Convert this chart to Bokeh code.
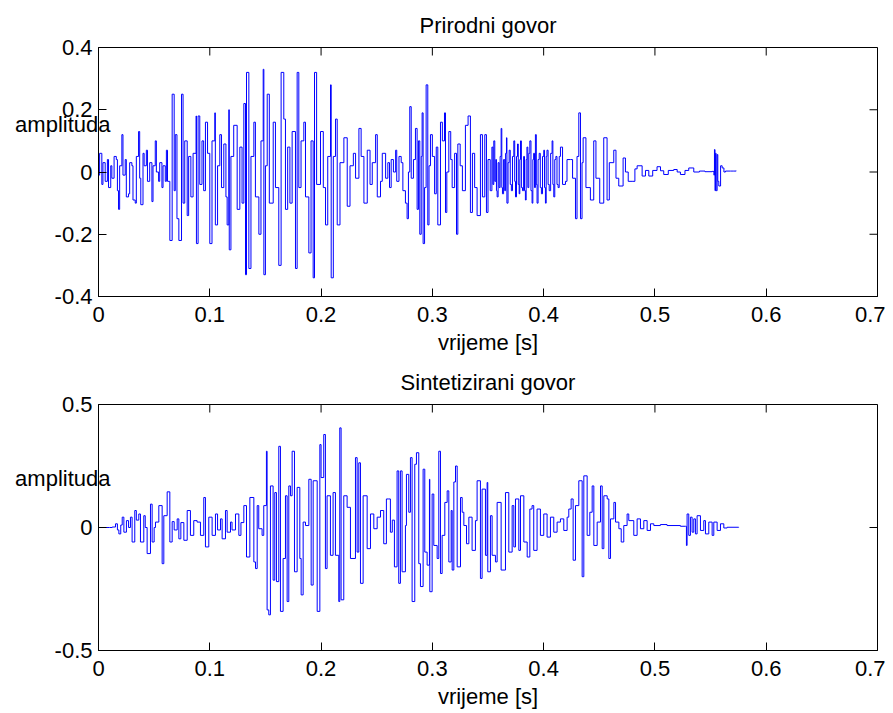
import math
from bokeh.plotting import figure
from bokeh.models import LinearAxis, FixedTicker, Range1d
from bokeh.layouts import column
from bokeh.embed import file_html
from bokeh.resources import INLINE

FONT = "Liberation Sans"
FS = "22px"

x_ticks = [0, 0.1, 0.2, 0.3, 0.4, 0.5, 0.6, 0.7]
x_tick_labels = ["0", "0.1", "0.2", "0.3", "0.4", "0.5", "0.6", "0.7"]
top_y_ticks = [-0.4, -0.2, 0, 0.2, 0.4]
top_y_tick_labels = ["-0.4", "-0.2", "0", "0.2", "0.4"]
bot_y_ticks = [-0.5, 0, 0.5]
bot_y_tick_labels = ["-0.5", "0", "0.5"]

top_title = "Prirodni govor"
bot_title = "Sintetizirani govor"
x_label = "vrijeme [s]"
y_label = "amplituda"

# (time [s], amplitude)
top_samples = [
    (0.000, -0.01), (0.001, 0.06), (0.003, -0.04), (0.004, 0.03), (0.006, -0.03), (0.008, 0.04),
    (0.009, -0.05), (0.011, 0.02), (0.012, -0.02), (0.014, 0.05), (0.016, 0.04), (0.017, -0.06),
    (0.018, -0.12), (0.019, 0.02), (0.021, 0.12), (0.022, -0.01), (0.024, 0.04), (0.025, -0.08),
    (0.027, -0.07), (0.028, 0.03), (0.030, 0.02), (0.031, -0.09), (0.033, -0.10), (0.034, 0.05),
    (0.036, 0.13), (0.037, -0.02), (0.038, -0.105), (0.040, 0.06), (0.041, 0.02), (0.043, 0.07),
    (0.044, -0.03), (0.046, 0.03), (0.048, -0.095), (0.049, 0.02), (0.051, 0.10), (0.052, 0.0),
    (0.054, -0.03), (0.055, 0.03), (0.057, -0.05), (0.058, 0.02), (0.060, -0.03), (0.061, 0.07),
    (0.062, -0.03),
    (0.0641, -0.22), (0.0662, 0.25), (0.068, -0.06), (0.069, 0.12), (0.0705, -0.15), (0.0722, -0.22),
    (0.0746, 0.25), (0.076, -0.10), (0.0775, 0.10), (0.0797, -0.14), (0.081, 0.05), (0.083, -0.08),
    (0.085, 0.06), (0.0877, 0.18), (0.0880, -0.23), (0.0895, 0.18), (0.091, -0.04), (0.093, 0.10),
    (0.0945, -0.06), (0.0961, 0.16), (0.098, 0.06), (0.1000, -0.23), (0.102, 0.10), (0.1045, 0.19),
    (0.1050, -0.17), (0.107, 0.02), (0.109, 0.12), (0.1105, -0.05), (0.1126, 0.09), (0.1145, -0.08),
    (0.1156, -0.17), (0.1171, 0.20), (0.1175, -0.25), (0.119, 0.05), (0.1215, 0.15), (0.1246, -0.12),
    (0.127, 0.08), (0.1290, -0.10), (0.1306, 0.22), (0.1321, -0.33), (0.1330, 0.32), (0.1351, -0.31),
    (0.137, 0.05), (0.1396, 0.16), (0.141, -0.08), (0.1441, -0.20), (0.146, 0.10), (0.1480, 0.33),
    (0.1486, -0.33), (0.150, 0.02), (0.1516, 0.25), (0.1535, -0.10), (0.1570, 0.16), (0.159, -0.05),
    (0.1620, -0.30), (0.1641, 0.32), (0.1665, 0.17), (0.168, -0.12), (0.170, 0.08), (0.172, -0.10),
    (0.1740, 0.13), (0.1770, -0.31), (0.1785, 0.32), (0.180, -0.05), (0.182, 0.10), (0.1845, 0.16),
    (0.186, -0.08), (0.1890, -0.26), (0.1910, 0.10), (0.1929, -0.34), (0.1941, 0.32), (0.196, -0.04),
    (0.1995, 0.13), (0.202, -0.05), (0.2040, -0.17), (0.206, 0.05), (0.2085, 0.28), (0.2091, -0.34),
    (0.211, 0.05), (0.2130, 0.17), (0.2145, -0.17), (0.217, 0.03), (0.2205, 0.11), (0.2235, -0.11),
    (0.226, 0.02), (0.229, 0.06), (0.231, -0.02), (0.234, 0.14), (0.236, 0.05), (0.2385, -0.10),
    (0.2415, 0.07), (0.244, -0.04), (0.246, 0.03), (0.249, 0.12), (0.2505, -0.08),
    (0.2534, -0.03), (0.255, 0.06), (0.2565, 0.06), (0.258, -0.02), (0.260, 0.03), (0.2615, -0.05),
    (0.263, 0.04), (0.265, 0.0), (0.267, 0.07), (0.268, -0.03), (0.270, 0.05), (0.272, 0.03),
    (0.2735, -0.06), (0.2758, -0.10), (0.2773, -0.15), (0.2785, 0.0), (0.2797, 0.21), (0.281, -0.02),
    (0.283, 0.04), (0.2848, 0.14), (0.2863, -0.12), (0.2875, 0.10), (0.2887, -0.20), (0.290, 0.05),
    (0.2908, 0.19), (0.2917, -0.23), (0.293, -0.05), (0.2944, 0.28), (0.2959, -0.17), (0.297, 0.02),
    (0.2983, 0.12), (0.300, 0.05), (0.302, -0.07), (0.3035, 0.08), (0.3049, -0.17), (0.3073, 0.16),
    (0.309, 0.10), (0.3109, 0.19), (0.3118, -0.13), (0.313, 0.0), (0.3148, 0.13), (0.3165, 0.04),
    (0.3178, -0.05), (0.320, 0.06), (0.3217, -0.20), (0.3229, 0.09), (0.325, 0.02), (0.327, -0.06),
    (0.3297, 0.15), (0.3321, 0.18), (0.3342, -0.13), (0.336, 0.06), (0.338, -0.05), (0.3402, -0.14),
    (0.3432, 0.12), (0.345, -0.08), (0.3471, 0.12), (0.3486, -0.13), (0.350, 0.04), (0.352, -0.06),
    (0.3535, 0.08), (0.3544, -0.04), (0.3552, 0.10), (0.3561, -0.03), (0.357, 0.04), (0.3576, -0.06),
    (0.3582, -0.08), (0.3591, 0.03), (0.360, -0.05), (0.3609, 0.05), (0.3618, 0.14), (0.3624, -0.05),
    (0.363, -0.07), (0.364, 0.04), (0.365, -0.06), (0.3658, 0.06), (0.3666, 0.11), (0.3670, -0.10),
    (0.368, 0.03), (0.369, 0.07), (0.370, -0.04), (0.371, -0.06), (0.372, 0.05), (0.3732, 0.10),
    (0.374, -0.03), (0.3747, -0.08), (0.3756, 0.05), (0.3765, 0.09), (0.3772, -0.04), (0.378, -0.07),
    (0.3786, 0.04), (0.3792, 0.10), (0.380, -0.05), (0.381, -0.06), (0.382, 0.05), (0.3828, -0.06),
    (0.3836, -0.09), (0.3843, 0.04), (0.385, 0.08), (0.3858, -0.05), (0.3867, 0.06), (0.3876, 0.10),
    (0.3886, -0.06), (0.3896, -0.10), (0.3903, 0.04), (0.391, 0.06), (0.3918, -0.05), (0.3926, 0.12),
    (0.3934, -0.04), (0.3941, -0.10), (0.395, 0.04), (0.396, 0.06), (0.397, -0.05), (0.398, -0.07),
    (0.399, 0.05), (0.4001, 0.07), (0.4008, -0.05), (0.4016, -0.10), (0.4023, 0.05), (0.403, 0.07),
    (0.404, -0.04), (0.405, -0.06), (0.4063, 0.06), (0.4076, 0.10), (0.4083, -0.04), (0.4091, -0.08),
    (0.410, 0.04), (0.411, 0.05), (0.412, -0.04), (0.413, -0.05), (0.414, 0.05), (0.4151, 0.08),
    (0.417, -0.04), (0.4196, -0.03), (0.421, 0.04), (0.4241, 0.04), (0.426, -0.02), (0.4286, -0.15),
    (0.430, 0.05), (0.4316, 0.19), (0.4331, -0.15), (0.4345, 0.03), (0.4355, 0.11), (0.438, -0.05),
    (0.4420, -0.09), (0.4450, 0.10), (0.447, -0.02), (0.4504, -0.10), (0.4540, 0.11), (0.4570, -0.09),
    (0.459, 0.03), (0.4630, 0.07), (0.465, -0.02), (0.4675, -0.045), (0.4714, 0.045), (0.4735, 0.0),
    (0.4760, -0.03), (0.4795, -0.03), (0.4820, 0.01), (0.4840, 0.02), (0.4885, -0.013), (0.4915, 0.005),
    (0.4945, -0.013), (0.4980, 0.005), (0.5019, 0.017), (0.505, 0.004), (0.5079, -0.008), (0.512, 0.005),
    (0.5169, 0.008), (0.5200, 0.0), (0.5229, -0.008), (0.5270, 0.005), (0.5304, 0.013), (0.5349, 0.0),
    (0.540, 0.003), (0.545, 0.001), (0.5514, 0.002), (0.5530, -0.01), (0.5535, 0.072), (0.5540, -0.06),
    (0.5544, 0.06), (0.555, -0.06), (0.5559, 0.056), (0.5565, -0.03), (0.5574, -0.045), (0.5590, 0.02),
    (0.5604, 0.013), (0.5620, 0.0), (0.5634, 0.003), (0.5680, 0.003), (0.5709, 0.003), (0.573, 0.004),
]

# (time [s], amplitude)
bot_samples = [
    (0.000, 0.0), (0.010, 0.0), (0.0123, 0.002), (0.0153, 0.015), (0.017, -0.01), (0.0183, -0.026),
    (0.020, 0.01), (0.0213, 0.042), (0.0228, -0.019), (0.0251, 0.028), (0.027, 0.0), (0.0287, 0.042),
    (0.0302, -0.059), (0.0326, 0.069), (0.034, 0.03), (0.0362, 0.055), (0.0377, -0.059), (0.0407, 0.048),
    (0.042, 0.0), (0.0437, -0.106), (0.0467, 0.095), (0.0482, -0.059), (0.050, 0.0), (0.0512, 0.022),
    (0.0542, 0.089), (0.0572, -0.147), (0.0587, 0.048), (0.0617, 0.145), (0.0641, -0.059), (0.0662, 0.024),
    (0.068, -0.01), (0.0707, 0.035), (0.0722, -0.046), (0.074, 0.02), (0.0767, -0.052), (0.0797, 0.069),
    (0.0826, -0.032), (0.0856, 0.028), (0.0886, 0.022), (0.0916, -0.032), (0.0946, 0.122), (0.0961, -0.079),
    (0.0991, 0.042), (0.1021, -0.032), (0.1051, 0.055), (0.107, -0.01), (0.1096, 0.035), (0.1111, -0.046),
    (0.1141, 0.069), (0.1156, -0.019), (0.1186, 0.022), (0.120, -0.01), (0.1231, 0.055), (0.1261, -0.032),
    (0.128, 0.02), (0.1306, 0.089), (0.1330, -0.12), (0.1360, 0.122), (0.1396, -0.14), (0.1411, -0.167),
    (0.1426, 0.089), (0.1440, -0.005), (0.1470, -0.032), (0.1485, 0.089), (0.1509, 0.31), (0.1515, -0.335),
    (0.1530, -0.355), (0.1545, 0.169), (0.1569, -0.214), (0.1584, 0.142), (0.1599, -0.22), (0.1620, 0.33),
    (0.1635, -0.341), (0.1659, -0.126), (0.1680, 0.129), (0.1695, -0.301), (0.1710, 0.169), (0.1725, 0.129),
    (0.1740, 0.31), (0.1761, -0.18), (0.1785, 0.163), (0.1809, -0.126), (0.1821, -0.274), (0.1839, 0.022),
    (0.1860, 0.008), (0.1890, 0.196), (0.1911, -0.234), (0.1929, 0.19), (0.1965, -0.341), (0.1989, 0.337),
    (0.2000, 0.203), (0.2024, 0.378), (0.2039, -0.167), (0.2054, 0.129), (0.2084, -0.113), (0.2108, 0.142),
    (0.2129, -0.113), (0.2159, -0.301), (0.2168, 0.405), (0.2180, -0.294), (0.2204, 0.129), (0.2234, 0.082),
    (0.2264, -0.126), (0.2309, 0.284), (0.2324, -0.1), (0.2339, 0.263), (0.2354, -0.227), (0.2378, 0.129),
    (0.2414, -0.086), (0.2444, 0.055), (0.2474, -0.005), (0.2504, 0.042),
    (0.2534, 0.069), (0.2563, -0.066), (0.2587, 0.116), (0.2608, 0.116), (0.2623, -0.019), (0.264, 0.03),
    (0.2659, -0.16), (0.2683, 0.23), (0.2698, -0.227), (0.2713, 0.23), (0.2728, -0.18), (0.2758, 0.008),
    (0.2767, 0.216), (0.2788, 0.062), (0.2803, 0.284), (0.2818, -0.301), (0.2842, 0.257), (0.2857, 0.304),
    (0.2878, -0.147), (0.2893, -0.24), (0.2917, 0.237), (0.2932, -0.1), (0.2953, -0.153), (0.2974, 0.196),
    (0.2977, -0.261), (0.2998, 0.136), (0.3013, -0.073), (0.3043, -0.126), (0.3058, 0.31), (0.3073, -0.187),
    (0.3088, -0.032), (0.3112, 0.102), (0.3133, 0.149), (0.3148, -0.14), (0.3169, 0.069), (0.3178, -0.173),
    (0.3193, 0.185), (0.3208, 0.25), (0.3223, -0.16), (0.3253, 0.122), (0.3268, 0.062), (0.3283, 0.008),
    (0.3307, -0.066), (0.3328, 0.042), (0.3357, -0.093), (0.3387, 0.028), (0.3402, 0.19), (0.3432, -0.207),
    (0.3447, 0.156), (0.3477, -0.113), (0.3492, 0.183), (0.3498, -0.18), (0.3522, 0.048), (0.3537, -0.113),
    (0.3567, -0.14), (0.3582, 0.102), (0.3618, -0.173), (0.3657, 0.142), (0.3687, -0.1), (0.3717, 0.089),
    (0.3732, -0.079), (0.3747, 0.116), (0.3777, -0.093), (0.3792, 0.129), (0.3822, -0.059), (0.3852, -0.12),
    (0.3876, 0.075), (0.3896, 0.089), (0.3911, -0.093), (0.3941, 0.075), (0.3971, -0.032), (0.4001, 0.055),
    (0.4031, -0.039), (0.4061, 0.042), (0.4091, -0.019), (0.4121, 0.022), (0.4151, 0.035), (0.4181, -0.012),
    (0.4211, 0.042), (0.4226, 0.075), (0.4247, 0.116), (0.4265, -0.133), (0.4286, 0.089), (0.4316, 0.19),
    (0.4346, -0.2), (0.4361, 0.21), (0.4391, -0.032), (0.4415, 0.062), (0.4436, 0.169), (0.4451, -0.073),
    (0.4481, 0.022), (0.4511, 0.169), (0.4526, -0.086), (0.4541, 0.129), (0.4571, 0.116), (0.4586, -0.126),
    (0.4601, 0.035), (0.4631, 0.102), (0.4646, 0.022), (0.4676, -0.005), (0.4697, -0.059), (0.4720, 0.008),
    (0.4750, 0.055), (0.4765, 0.028), (0.4810, -0.032), (0.4840, 0.035), (0.4870, -0.005), (0.4900, 0.028),
    (0.4930, -0.012), (0.4960, 0.015), (0.4990, 0.008), (0.5049, 0.012), (0.5109, 0.008), (0.5229, 0.005),
    (0.5274, 0.005), (0.5283, -0.073), (0.5289, 0.055), (0.5304, -0.032), (0.5319, 0.042), (0.5334, -0.019),
    (0.5349, 0.035), (0.5364, -0.026), (0.5379, 0.048), (0.5409, -0.012), (0.5439, 0.028), (0.5454, -0.026),
    (0.5484, 0.022), (0.5514, -0.032), (0.5529, 0.022), (0.5559, -0.012), (0.5589, 0.015), (0.5619, -0.002),
    (0.5649, 0.001), (0.5753, 0.0),
]


def base_axis(ax):
    ax.major_tick_in = 8
    ax.major_tick_out = 0
    ax.minor_tick_in = 0
    ax.minor_tick_out = 0
    ax.axis_line_color = "black"
    ax.major_tick_line_color = "black"
    ax.major_label_text_font = FONT
    ax.major_label_text_font_size = FS
    ax.major_label_text_color = "black"


def make_panel(title, samples, y_rng, y_ticks, y_tick_labels, label_y, height, b_top, b_bottom):
    p = figure(width=885, height=height, x_range=Range1d(0, 0.7), y_range=Range1d(*y_rng),
               output_backend="svg", toolbar_location=None,
               x_axis_location=None, y_axis_location=None,
               min_border_left=98, min_border_right=8,
               min_border_top=b_top, min_border_bottom=b_bottom)
    p.grid.visible = False
    p.outline_line_color = "black"
    p.background_fill_color = "white"
    p.border_fill_color = "white"

    p.title.text = title
    p.title.align = "center"
    p.title.text_font = FONT
    p.title.text_font_size = FS
    p.title.text_font_style = "normal"
    p.title.text_color = "black"
    p.title.standoff = 19

    x_over = {v: s for v, s in zip(x_ticks, x_tick_labels)}
    y_over = {v: s for v, s in zip(y_ticks, y_tick_labels)}

    xb = LinearAxis(ticker=FixedTicker(ticks=x_ticks), major_label_overrides=x_over, axis_label=x_label)
    base_axis(xb)
    xb.major_label_standoff = 10
    xb.axis_label_text_font = FONT
    xb.axis_label_text_font_size = FS
    xb.axis_label_text_font_style = "normal"
    xb.axis_label_text_color = "black"
    xb.axis_label_standoff = 5
    p.add_layout(xb, "below")

    yl = LinearAxis(ticker=FixedTicker(ticks=y_ticks), major_label_overrides=y_over)
    base_axis(yl)
    yl.major_label_standoff = 6
    p.add_layout(yl, "left")

    # horizontal "amplituda" label, drawn by an outer left axis with no line or ticks
    ya = LinearAxis(ticker=FixedTicker(ticks=[label_y]), major_label_overrides={label_y: y_label})
    base_axis(ya)
    ya.axis_line_color = None
    ya.major_tick_line_color = None
    ya.major_label_standoff = -59
    p.add_layout(ya, "left")

    # inward ticks on the top and right edges (box on)
    p.ray(x=x_ticks, y=[y_rng[1]] * len(x_ticks), length=8, length_units="screen",
          angle=-math.pi / 2, line_color="black", line_width=1)
    p.ray(x=[0.7] * len(y_ticks), y=y_ticks, length=8, length_units="screen",
          angle=math.pi, line_color="black", line_width=1)

    t = [s[0] for s in samples]
    y = [s[1] for s in samples]
    p.step(t, y, mode="after", line_color="#0000ff", line_width=1)
    return p


p1 = make_panel(top_title, top_samples, (-0.4, 0.4), top_y_ticks, top_y_tick_labels,
                0.153, 358, 47, 62)
p2 = make_panel(bot_title, bot_samples, (-0.5, 0.5), bot_y_ticks, bot_y_tick_labels,
                0.198, 354, 45, 62)

layout = column(p1, p2, spacing=0)
open("out.html", "w").write(file_html(layout, INLINE))
